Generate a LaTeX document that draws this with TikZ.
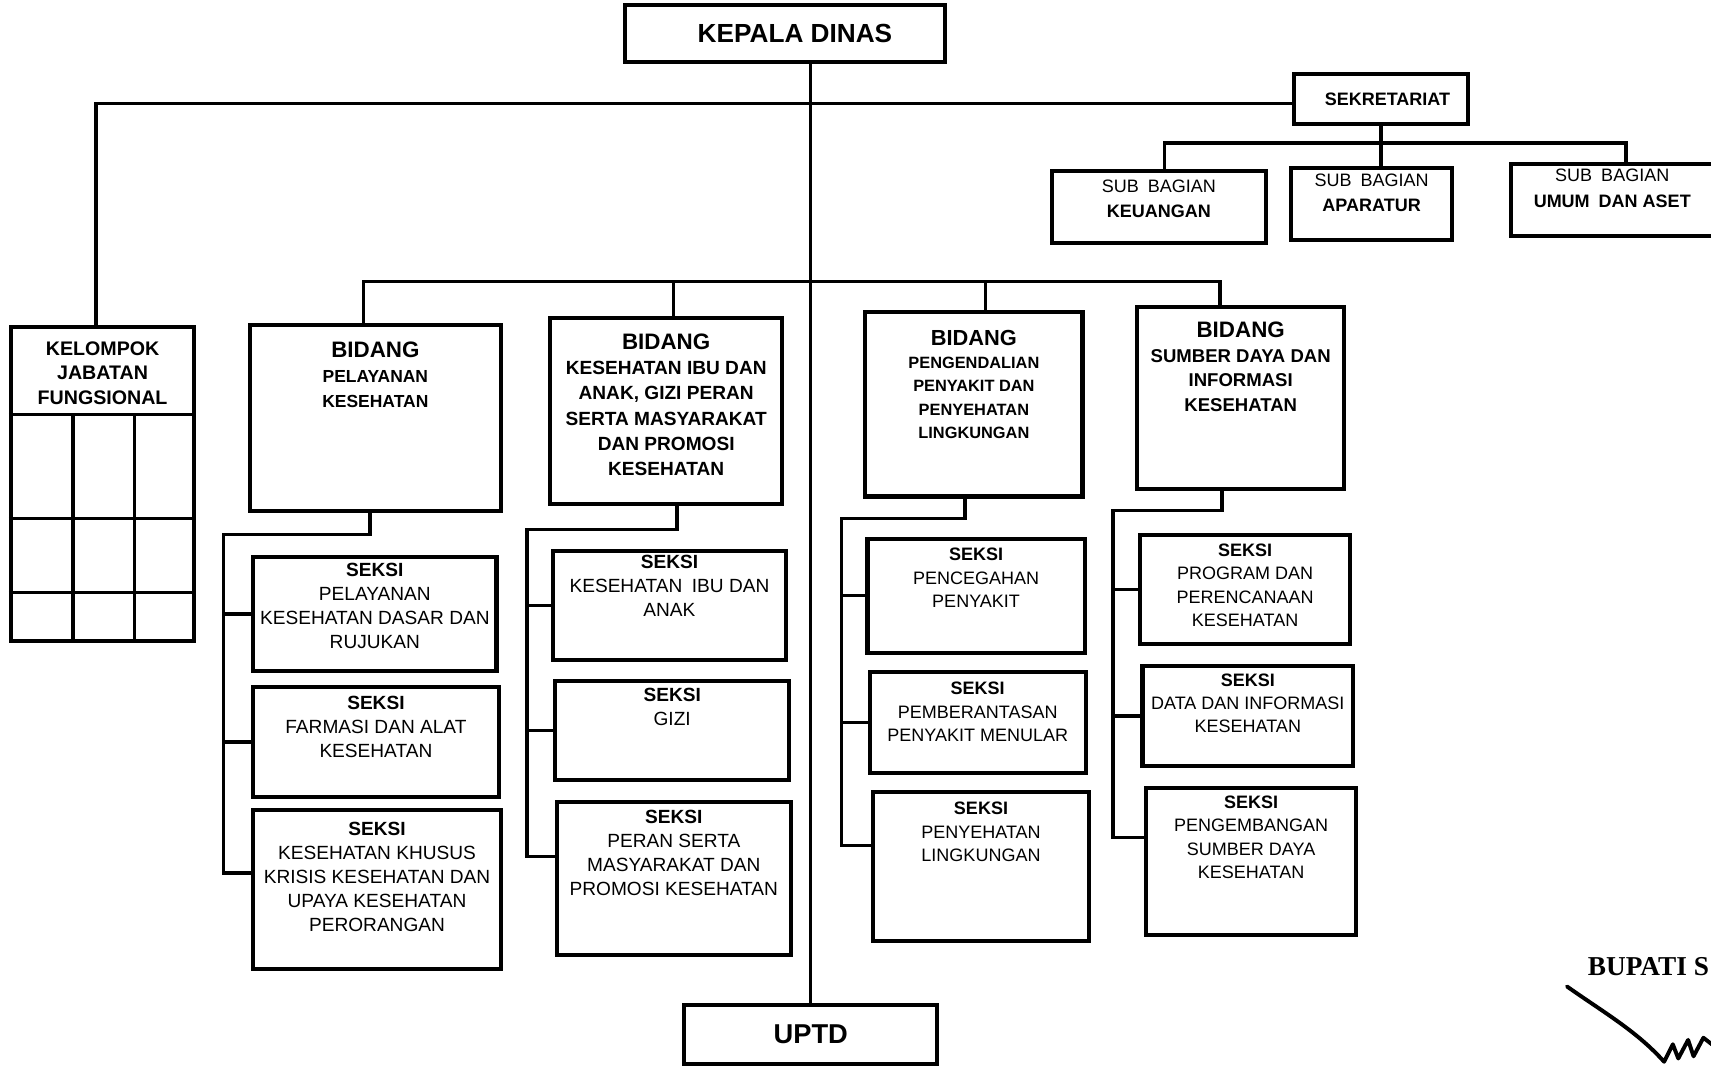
\documentclass[tikz,border=0pt]{standalone}
\usepackage{fontspec}
\setmainfont{Liberation Sans}
\newfontfamily\bupfont{Liberation Serif}
\newcommand{\obox}[5]{%
  \node[ob, minimum width={(#4-#2)*1pt}, minimum height={(#5-#3)*1pt}] (#1) at ({(#2+#4)/2},{(#3+#5)/2}) {};}
\begin{document}
\begin{tikzpicture}[x=1pt,y=-1pt,
  ob/.style={draw, line width=3.7pt, inner sep=0pt},
  ln/.style={line width=3.1pt},
  sxa/.style={inner sep=0pt, align=center, anchor=north, font=\fontsize{17.5}{22}\selectfont},
  sxb/.style={inner sep=0pt, align=center, anchor=north, font=\fontsize{16.5}{21.5}\selectfont},
  bda/.style={inner sep=0pt, align=center, anchor=north, font=\bfseries\fontsize{16}{23}\selectfont},
  bdc/.style={inner sep=0pt, align=center, anchor=north, font=\bfseries\fontsize{17.5}{23}\selectfont},
  bdd/.style={inner sep=0pt, align=center, anchor=north, font=\bfseries\fontsize{17}{22.5}\selectfont},
  bdb/.style={inner sep=0pt, align=center, anchor=north, font=\bfseries\fontsize{15}{21.4}\selectfont},
  bhead/.style={font=\fontsize{20.5}{23}\selectfont},
  subt/.style={inner sep=0pt, align=center, anchor=north, font=\fontsize{16.5}{23}\selectfont},
]
\fill[white] (0,0) rectangle (1568,978);
\useasboundingbox (0,0) rectangle (1568,978);
\clip (0,0) rectangle (1568,978);

% boxes
\obox{kd}{573}{5}{866}{57}
\obox{sek}{1186}{68}{1345}{114}
\obox{keu}{964}{157}{1160}{223}
\obox{apa}{1183}{154}{1331}{220}
\obox{umum}{1385}{150}{1578}{216}
\obox{kjf}{10}{300}{178}{587}
\obox{bid1}{229}{298}{459}{468}
\obox{bid2}{504}{291}{717}{462}
\obox{bid3}{793}{286}{992}{455}
\obox{bid4}{1042}{281}{1232}{448}
\obox{uptd}{627}{921}{859}{975}
\obox{s1a}{232}{510}{455}{615}
\obox{s1b}{232}{630}{457}{730}
\obox{s1c}{232}{742}{459}{888}
\obox{s2a}{507}{505}{720}{605}
\obox{s2b}{509}{624}{723}{715}
\obox{s2c}{510}{735}{725}{875}
\obox{s3a}{795}{494}{994}{598}
\obox{s3b}{797}{616}{995}{708}
\obox{s3c}{800}{726}{998}{862}
\obox{s4a}{1045}{490}{1237}{590}
\obox{s4b}{1047}{610}{1240}{702}
\obox{s4c}{1050}{722}{1243}{857}

% texts
\node[inner sep=0pt, font=\bfseries\fontsize{24}{28}\selectfont] (kdt) at ([xshift=9pt]kd.center) {KEPALA DINAS};
\node[inner sep=0pt, font=\bfseries\fontsize{16.5}{20}\selectfont] (sekt) at ([xshift=6pt]sek.center) {SEKRETARIAT};
\node[subt] (keut) at (keu.north |- 0,165) {SUB\enspace BAGIAN\\\textbf{KEUANGAN}};
\node[subt] (apat) at (apa.north |- 0,159) {SUB\enspace BAGIAN\\\textbf{APARATUR}};
\node[subt] (umumt) at ([xshift=-4pt]umum.north |- 0,155) {SUB\enspace BAGIAN\\\textbf{UMUM\enspace DAN ASET}};
\node[inner sep=0pt, align=center, anchor=north, font=\bfseries\fontsize{18}{22.3}\selectfont] (kjft) at (kjf.north |- 0,313) {KELOMPOK\\JABATAN\\FUNGSIONAL};
\node[inner sep=0pt, font=\bfseries\fontsize{25}{28}\selectfont] (uptdt) at (uptd.center) {UPTD};

\node[bda] (bid1t) at (bid1.north |- 0,313) {{\tikzset{bhead}\fontsize{20.5}{23}\selectfont BIDANG}\\PELAYANAN\\KESEHATAN};
\node[bdc] (bid2t) at (bid2.north |- 0,306) {{\fontsize{20.5}{23}\selectfont BIDANG}\\KESEHATAN IBU DAN\\ANAK, GIZI PERAN\\SERTA MASYARAKAT\\DAN PROMOSI\\KESEHATAN};
\node[bdb] (bid3t) at (bid3.north |- 0,302) {{\fontsize{20}{22}\selectfont BIDANG}\\PENGENDALIAN\\PENYAKIT DAN\\PENYEHATAN\\LINGKUNGAN};
\node[bdd] (bid4t) at (bid4.north |- 0,295) {{\fontsize{20.5}{23}\selectfont BIDANG}\\SUMBER DAYA DAN\\INFORMASI\\KESEHATAN};

\node[sxa] (s1at) at (s1a.north |- 0,516) {\textbf{SEKSI}\\PELAYANAN\\KESEHATAN DASAR DAN\\RUJUKAN};
\node[sxa] (s1bt) at (s1b.north |- 0,638) {\textbf{SEKSI}\\FARMASI DAN ALAT\\KESEHATAN};
\node[sxa] (s1ct) at (s1c.north |- 0,753) {\textbf{SEKSI}\\KESEHATAN KHUSUS\\KRISIS KESEHATAN DAN\\UPAYA KESEHATAN\\PERORANGAN};
\node[sxa] (s2at) at (s2a.north |- 0,509) {\textbf{SEKSI}\\KESEHATAN\enspace IBU DAN\\ANAK};
\node[sxa] (s2bt) at (s2b.north |- 0,630) {\textbf{SEKSI}\\GIZI};
\node[sxa] (s2ct) at (s2c.north |- 0,742) {\textbf{SEKSI}\\PERAN SERTA\\MASYARAKAT DAN\\PROMOSI KESEHATAN};
\node[sxb] (s3at) at (s3a.north |- 0,502) {\textbf{SEKSI}\\PENCEGAHAN\\PENYAKIT};
\node[sxb] (s3bt) at (s3b.north |- 0,625) {\textbf{SEKSI}\\PEMBERANTASAN\\PENYAKIT MENULAR};
\node[sxb] (s3ct) at (s3c.north |- 0,735) {\textbf{SEKSI}\\PENYEHATAN\\LINGKUNGAN};
\node[sxb] (s4at) at (s4a.north |- 0,498) {\textbf{SEKSI}\\PROGRAM DAN\\PERENCANAAN\\KESEHATAN};
\node[sxb] (s4bt) at (s4b.north |- 0,617) {\textbf{SEKSI}\\DATA DAN INFORMASI\\KESEHATAN};
\node[sxb] (s4ct) at (s4c.north |- 0,729) {\textbf{SEKSI}\\PENGEMBANGAN\\SUMBER DAYA\\KESEHATAN};

% grid in kelompok box
\draw[ln] (kjf.west |- 0,380) -- (kjf.east |- 0,380);
\draw[ln] (kjf.west |- 0,475) -- (kjf.east |- 0,475);
\draw[ln] (kjf.west |- 0,543) -- (kjf.east |- 0,543);
\draw[ln] (67,380) -- (kjf.south -| 67,0);
\draw[ln] (123,380) -- (kjf.south -| 123,0);

% connectors
\draw[ln] (kd.south -| uptd.north) -- (uptd.north);
\draw[ln] ([xshift=-6pt]kjf.north) |- ([yshift=-4pt]sek.west);
\coordinate (sbL) at (1067,131);
\coordinate (sbR) at (1490,131);
\draw[ln] (sek.south) -- (apa.north -| sek.south);
\draw[ln] (keu.north -| sbL) |- (sbR) -- (umum.north -| sbR);

\coordinate (bbL) at (333,258);
\coordinate (bbR) at (1118,258);
\coordinate (bb2) at (617,258);
\coordinate (bb3) at (903,258);
\draw[ln] (bid1.north -| bbL) |- (bbR) -- (bid4.north -| bbR);
\draw[ln] (bb2) -- (bid2.north -| bb2);
\draw[ln] (bb3) -- (bid3.north -| bb3);

\coordinate (j1) at (205,490);
\draw[ln] ([xshift=-5pt]bid1.south) |- (j1) |- ([yshift=15pt]s1c.west);
\draw[ln] (j1 |- s1a.west) -- (s1a.west);
\draw[ln] (j1 |- s1b.west) -- (s1b.west);

\coordinate (j2) at (483,485);
\draw[ln] ([xshift=10pt]bid2.south) |- (j2) |- ([yshift=20pt]s2c.west);
\draw[ln] (j2 |- s2a.west) -- (s2a.west);
\draw[ln] (j2 |- s2b.west) -- (s2b.west);

\coordinate (j3) at (771,475);
\draw[ln] ([xshift=-8pt]bid3.south) |- (j3) |- ([yshift=19pt]s3c.west);
\draw[ln] (j3 |- s3a.west) -- (s3a.west);
\draw[ln] (j3 |- s3b.west) -- (s3b.west);

\coordinate (j4) at (1020,468);
\draw[ln] ([xshift=-17pt]bid4.south) |- (j4) |- ([yshift=22pt]s4c.west);
\draw[ln] (j4 |- s4a.west) -- (s4a.west);
\draw[ln] (j4 |- s4b.west) -- (s4b.west);

% signature block
\node[inner sep=0pt, anchor=base west, font=\bupfont\bfseries\fontsize{25}{27}\selectfont] (bup) at (1455,894) {BUPATI S};
\draw[line width=3.6pt, line cap=round, line join=round] (1436,904) .. controls (1470,928) and (1500,945) .. (1525,973) -- (1533,957) -- (1538,970) -- (1547,953) -- (1552,968) -- (1561,951) -- (1570,958);
\end{tikzpicture}
\end{document}
